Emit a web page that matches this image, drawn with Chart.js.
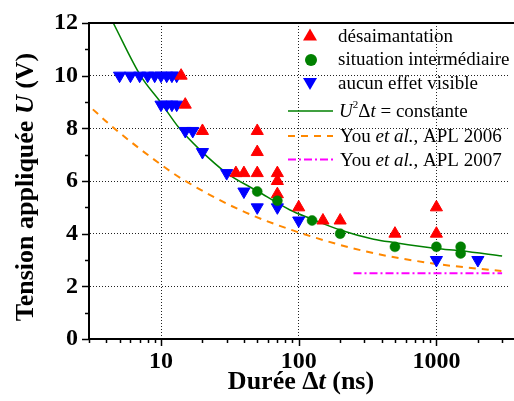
<!DOCTYPE html>
<html><head><meta charset="utf-8">
<script src="https://cdn.jsdelivr.net/npm/chart.js@4.4.0/dist/chart.umd.min.js"></script>
<style>html,body{margin:0;padding:0;background:#fff;overflow:hidden}#wrap{width:514px;height:401px;position:relative}</style>
</head><body><div id="wrap"><canvas id="c" width="514" height="401"></canvas></div>
<script>
const SERIF = '"Liberation Serif","Times New Roman",serif';

// ---- data ----
const desaimDur = [14, 15, 20, 35, 40, 50, 50, 50, 70, 70, 70, 100, 150, 200, 500, 1000, 1000];
const desaimU   = [10, 8.9, 7.9, 6.3, 6.3, 7.9, 7.1, 6.3, 6.3, 6.0, 5.5, 5.0, 4.5, 4.5, 4.0, 5.0, 4.0];
const interDur  = [50, 70, 125, 200, 500, 1000, 1500, 1500];
const interU    = [5.6, 5.25, 4.5, 4.0, 3.5, 3.5, 3.5, 3.25];
const aucunDur  = [5, 6, 7, 8, 9, 10, 11, 12, 13, 10, 11, 12, 13, 15, 17, 20, 30, 40, 50, 70, 100, 1000, 2000];
const aucunU    = [10, 10, 10, 10, 10, 10, 10, 10, 10, 8.9, 8.9, 8.9, 8.9, 7.9, 7.9, 7.1, 6.3, 5.6, 5.0, 5.0, 4.5, 3.0, 3.0];
const fitDur    = [4.5, 7.1, 9.9, 13.6, 18.7, 30, 50, 86.5, 121, 200, 350, 500, 1000, 1500, 3000];
const fitU      = [12, 10, 9, 8, 7.24, 6.3, 5.62, 4.9, 4.58, 4.14, 3.79, 3.66, 3.44, 3.35, 3.15];
const you2006Dur = [3.2, 4.43, 10, 14.3, 37.5, 100, 310, 940, 2965];
const you2006U   = [8.72, 8.06, 6.62, 6.07, 4.9, 4.05, 3.32, 2.87, 2.58];
const you2007Dur = [250, 3000];
const you2007U   = [2.5, 2.5];
const xTickValues = [10, 100, 1000];
const yTickValues = [0, 2, 4, 6, 8, 10, 12];

const RED = '#ff0000', GREEN = '#008000', BLUE = '#0000ff', ORANGE = '#ff8800', MAGENTA = '#ff00ff';
const pts = (xs, ys) => xs.map((x, i) => ({x: x, y: ys[i]}));

function drawRich(ctx, segs, x, y, align) {
  let w = 0;
  segs.forEach(s => { ctx.font = s.font; s.w = ctx.measureText(s.t).width; w += s.w + (s.gap || 0); });
  let cx = align === 'center' ? x - w / 2 : x;
  ctx.textAlign = 'left';
  ctx.textBaseline = 'alphabetic';
  segs.forEach(s => {
    ctx.font = s.font;
    ctx.fillText(s.t, cx, y + (s.dy || 0));
    cx += s.w + (s.gap || 0);
  });
}

const decor = {
  id: 'decor',
  afterDatasetsDraw(chart) {
    // the plot is cut at the right edge in the reference: no right frame line
    const ctx = chart.ctx, a = chart.chartArea;
    ctx.save();
    ctx.fillStyle = '#fff';
    ctx.fillRect(a.right - 4, a.top + 2, 4, a.bottom - a.top - 4);
    ctx.restore();
  },
  afterDraw(chart) {
    const ctx = chart.ctx, a = chart.chartArea;
    const xs = chart.scales.x, ys = chart.scales.y;
    ctx.save();
    // top border
    ctx.strokeStyle = '#000'; ctx.lineWidth = 2; ctx.setLineDash([]);
    ctx.beginPath(); ctx.moveTo(a.left - 1, a.top); ctx.lineTo(a.right, a.top); ctx.stroke();
    // ticks
    ctx.lineWidth = 1.5;
    [1, 10, 100, 1000].forEach(d => {
      for (let m = 1; m <= 9; m++) {
        const v = m * d;
        if (v < xs.min || v > xs.max) continue;
        const px = Math.round(xs.getPixelForValue(v)) + 0.5;
        const len = m === 1 ? 7 : 4;
        ctx.beginPath(); ctx.moveTo(px, a.bottom); ctx.lineTo(px, a.bottom + len); ctx.stroke();
      }
    });
    for (let v = 0; v <= 12; v++) {
      const py = Math.round(ys.getPixelForValue(v)) + 0.5;
      const len = v % 2 === 0 ? 7 : 4;
      ctx.beginPath(); ctx.moveTo(a.left - len, py); ctx.lineTo(a.left, py); ctx.stroke();
    }
    // axis titles
    ctx.fillStyle = '#000';
    const B = 'bold 26px ' + SERIF, BI = 'italic bold 26px ' + SERIF;
    drawRich(ctx, [{t: 'Durée Δ', font: B}, {t: 't', font: BI}, {t: ' (ns)', font: B}], 301, 388.5, 'center');
    ctx.save();
    ctx.translate(33, 187);
    ctx.rotate(-Math.PI / 2);
    drawRich(ctx, [{t: 'Tension appliquée ', font: B}, {t: 'U', font: BI}, {t: ' (V)', font: B}], 0, 0, 'center');
    ctx.restore();
    // legend
    const lx = 310;
    ctx.fillStyle = RED;
    ctx.beginPath(); ctx.moveTo(lx, 28.5); ctx.lineTo(lx + 7, 40.5); ctx.lineTo(lx - 7, 40.5); ctx.closePath(); ctx.fill();
    ctx.fillStyle = GREEN;
    ctx.beginPath(); ctx.arc(lx + 1, 60, 6, 0, Math.PI * 2); ctx.fill();
    ctx.fillStyle = BLUE;
    ctx.beginPath(); ctx.moveTo(lx, 90); ctx.lineTo(lx + 7, 78); ctx.lineTo(lx - 7, 78); ctx.closePath(); ctx.fill();
    ctx.lineWidth = 1.5; ctx.strokeStyle = GREEN;
    ctx.beginPath(); ctx.moveTo(288, 111); ctx.lineTo(333, 111); ctx.stroke();
    ctx.lineWidth = 2; ctx.strokeStyle = ORANGE; ctx.setLineDash([7, 6]);
    ctx.beginPath(); ctx.moveTo(288, 136); ctx.lineTo(333, 136); ctx.stroke();
    ctx.strokeStyle = MAGENTA; ctx.setLineDash([8, 3, 2, 3]);
    ctx.beginPath(); ctx.moveTo(288, 159.5); ctx.lineTo(333, 159.5); ctx.stroke();
    ctx.setLineDash([]);
    ctx.fillStyle = '#000';
    const R = '19px ' + SERIF, I = 'italic 19px ' + SERIF, S = '11px ' + SERIF;
    const tx = 338;
    drawRich(ctx, [{t: 'désaimantation', font: R}], tx, 41.7, 'left');
    drawRich(ctx, [{t: 'situation intermédiaire', font: R}], tx, 65, 'left');
    drawRich(ctx, [{t: 'aucun effet visible', font: R}], tx, 89.3, 'left');
    drawRich(ctx, [{t: 'U', font: I}, {t: '2', font: S, dy: -9}, {t: 'Δ', font: R}, {t: 't', font: I}, {t: ' = constante', font: R}], tx + 1, 117.3, 'left');
    drawRich(ctx, [{t: 'You ', font: R}, {t: 'et al.', font: I}, {t: ', APL 2006', font: R}], tx + 2, 141.7, 'left');
    drawRich(ctx, [{t: 'You ', font: R}, {t: 'et al.', font: I}, {t: ', APL 2007', font: R}], tx + 2, 165.5, 'left');
    ctx.restore();
  }
};

const tickFont = {family: SERIF, size: 24, weight: 'bold'};

new Chart(document.getElementById('c').getContext('2d'), {
  type: 'scatter',
  data: {
    datasets: [
      {label: 'situation intermédiaire', data: pts(interDur, interU), pointStyle: 'circle', pointRadius: 5, backgroundColor: GREEN, borderColor: GREEN, borderWidth: 0.5, order: 1},
      {label: 'désaimantation', data: pts(desaimDur, desaimU), pointStyle: 'triangle', pointRadius: 7, backgroundColor: RED, borderColor: RED, borderWidth: 1, order: 2},
      {label: 'aucun effet visible', data: pts(aucunDur, aucunU), pointStyle: 'triangle', rotation: 180, pointRadius: 7, backgroundColor: BLUE, borderColor: BLUE, borderWidth: 1, order: 3},
      {label: 'U²Δt = constante', data: pts(fitDur, fitU), showLine: true, pointRadius: 0, borderColor: GREEN, borderWidth: 1.5, cubicInterpolationMode: 'monotone', order: 4},
      {label: 'You et al., APL 2006', data: pts(you2006Dur, you2006U), showLine: true, pointRadius: 0, borderColor: ORANGE, borderWidth: 2, borderDash: [7, 6], cubicInterpolationMode: 'monotone', order: 5},
      {label: 'You et al., APL 2007', data: pts(you2007Dur, you2007U), showLine: true, pointRadius: 0, borderColor: MAGENTA, borderWidth: 2, borderDash: [8, 3, 2, 3], order: 6}
    ]
  },
  options: {
    responsive: false, animation: false, events: [],
    layout: {autoPadding: false, padding: {top: 23, left: 0, right: 0, bottom: 0}},
    plugins: {legend: {display: false}, tooltip: {enabled: false}},
    scales: {
      x: {
        type: 'logarithmic', min: 3, max: 3660,
        afterFit: s => { s.height = 62; s.paddingLeft = 0; s.paddingRight = 0; },
        afterBuildTicks: s => { s.ticks = xTickValues.map(v => ({value: v})); },
        ticks: {autoSkip: false, maxRotation: 0, padding: 8, font: tickFont, color: '#000', callback: v => String(v)},
        grid: {drawTicks: false, color: '#222', lineWidth: 1},
        border: {display: true, color: '#000', width: 2, dash: [1, 2]}
      },
      y: {
        min: 0, max: 12,
        afterFit: s => { s.width = 89; s.paddingTop = 0; s.paddingBottom = 0; },
        afterBuildTicks: s => { s.ticks = yTickValues.map(v => ({value: v})); },
        ticks: {padding: 11, font: tickFont, color: '#000', callback: v => String(v)},
        grid: {drawTicks: false, color: '#222', lineWidth: 1},
        border: {display: true, color: '#000', width: 2, dash: [1, 2]}
      }
    }
  },
  plugins: [decor]
});
</script>
</body></html>
